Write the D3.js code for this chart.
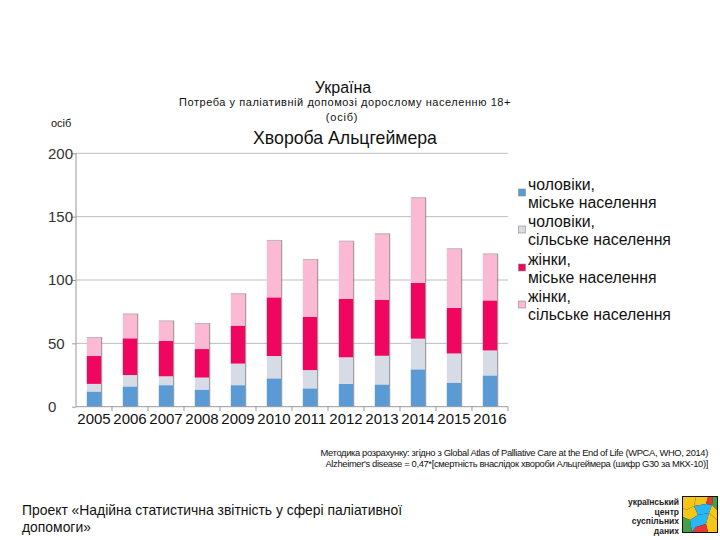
<!DOCTYPE html>
<html><head><meta charset="utf-8">
<script src="https://cdn.jsdelivr.net/npm/d3@7"></script>
<style>body{margin:0;background:#fff}svg{display:block}text{font-family:"Liberation Sans",Arial,sans-serif}</style>
</head><body><svg id="c" width="720" height="540"></svg>
<script>
const years = ["2005","2006","2007","2008","2009","2010","2011","2012","2013","2014","2015","2016"];
const menUrban   = [12, 16, 17, 13.5, 17, 22.4, 14.5, 18, 17.6, 29.5, 19, 24.7];
const menRural   = [6, 9, 7, 9.5, 17, 17.6, 14.4, 21, 22.6, 24.2, 23, 19.7];
const womenUrban = [22, 29, 28, 22.5, 30, 46.3, 41.9, 46, 44.2, 44, 36, 39.5];
const womenRural = [15, 19.5, 16, 20.5, 25.5, 45.3, 45.8, 46, 52.4, 67.6, 47, 37];
const seriesNames = [["чоловіки,","міське населення"],["чоловіки,","сільське населення"],["жінки,","міське населення"],["жінки,","сільське населення"]];
const yTicks = [0,50,100,150,200];
const colors = ["#5b9bd5","#d6dbe6","#f0065f","#fbb9d4"];

const svg = d3.select("#c");
const xb = d3.scaleBand().domain(years).range([76,508]);
const y = d3.scaleLinear().domain([0,200]).range([406.7,153.3]);

// gridlines
svg.append("g").selectAll("line").data(yTicks.filter(d=>d>0)).join("line")
  .attr("x1",76).attr("x2",508).attr("y1",d=>y(d)).attr("y2",d=>y(d))
  .attr("stroke","#bdbdbd").attr("stroke-width",1);

const series = [menUrban, menRural, womenUrban, womenRural];
const data = years.map((yr,i)=>({year:yr, a:series[0][i], b:series[1][i], c:series[2][i], d:series[3][i]}));
const stack = d3.stack().keys(["a","b","c","d"])(data);

const g = svg.append("g");
stack.forEach((layer,k)=>{
  g.append("g").selectAll("rect").data(layer).join("rect")
    .attr("x",d=>xb(d.data.year)+xb.bandwidth()/2-7.2)
    .attr("width",14.4)
    .attr("y",d=>y(d[1]))
    .attr("height",d=>y(d[0])-y(d[1]))
    .attr("fill",colors[k]);
});
// shadow right edge of bars
g.append("g").selectAll("line").data(data).join("line")
  .attr("x1",d=>xb(d.year)+xb.bandwidth()/2+7.7).attr("x2",d=>xb(d.year)+xb.bandwidth()/2+7.7)
  .attr("y1",d=>y(d.a+d.b+d.c+d.d)).attr("y2",y(0))
  .attr("stroke","#8a8a8a").attr("stroke-width",1);
g.append("g").selectAll("line").data(data).join("line")
  .attr("x1",d=>xb(d.year)+xb.bandwidth()/2-7.2).attr("x2",d=>xb(d.year)+xb.bandwidth()/2+7.2)
  .attr("y1",d=>y(d.a+d.b+d.c+d.d)+0.5).attr("y2",d=>y(d.a+d.b+d.c+d.d)+0.5)
  .attr("stroke","#bbbbbb").attr("stroke-width",1);

// y axis
const yAxis = d3.axisLeft(y).tickValues(yTicks).tickSize(4).tickPadding(0);
const ya = svg.append("g").attr("transform","translate(76,0)").call(yAxis);
ya.select(".domain").attr("stroke","#999").attr("d","M0,153.3V406.7");
ya.selectAll(".tick line").attr("stroke","#999");
ya.selectAll("text").attr("font-size",15).attr("fill","#333").attr("text-anchor","start").attr("x",-28);

// x axis
const xAxis = d3.axisBottom(xb).tickSize(0).tickPadding(7);
const xa = svg.append("g").attr("transform","translate(0,406.7)").call(xAxis);
xa.select(".domain").attr("stroke","#999").attr("d","M76,0H508");
xa.selectAll("text").attr("font-size",15).attr("fill","#111");
svg.append("g").selectAll("line").data(d3.range(1,13)).join("line")
  .attr("x1",i=>76+i*36).attr("x2",i=>76+i*36).attr("y1",406.7).attr("y2",411)
  .attr("stroke","#999");

// titles
svg.append("text").attr("x",343).attr("y",93).attr("text-anchor","middle").attr("font-size",16).attr("fill","#111").text("Україна");
svg.append("text").attr("x",345).attr("y",106).attr("text-anchor","middle").attr("font-size",11).attr("letter-spacing",0.55).attr("fill","#111").text("Потреба у паліативній допомозі дорослому населенню 18+");
svg.append("text").attr("x",342).attr("y",121).attr("text-anchor","middle").attr("font-size",11).attr("letter-spacing",0.8).attr("fill","#111").text("(осіб)");
svg.append("text").attr("x",345).attr("y",144).attr("text-anchor","middle").attr("font-size",17.7).attr("fill","#111").text("Хвороба Альцгеймера");
svg.append("text").attr("x",51).attr("y",127).attr("font-size",11).attr("fill","#111").text("осіб");

// legend
const leg = svg.append("g");
const legY = [185, 222, 260, 297];
seriesNames.forEach((nm,k)=>{
  leg.append("rect").attr("x",518.5).attr("y",legY[k]+4).attr("width",7).attr("height",7)
    .attr("fill",colors[k]).attr("stroke","#8a8a8a").attr("stroke-width",0.6);
  nm.forEach((t,j)=>{
    leg.append("text").attr("x",528).attr("y",legY[k]+5+j*18).attr("font-size",15.8).attr("fill","#111").text(t);
  });
});

// footnote
svg.append("text").attr("x",708).attr("y",456).attr("text-anchor","end").attr("font-size",9.4).attr("letter-spacing",-0.35).attr("fill","#111")
  .text("Методика розрахунку: згідно з Global Atlas of Palliative Care at the End of Life (WPCA, WHO, 2014)");
svg.append("text").attr("x",708).attr("y",467).attr("text-anchor","end").attr("font-size",9.4).attr("letter-spacing",-0.35).attr("fill","#111")
  .text("Alzheimer's disease = 0,47*[смертність внаслідок хвороби Альцгеймера (шифр G30 за МКХ-10)]");

// bottom project text
svg.append("text").attr("x",22).attr("y",515).attr("font-size",13.9).attr("fill","#111").text("Проект «Надійна статистична звітність у сфері паліативної");
svg.append("text").attr("x",22).attr("y",532).attr("font-size",13.9).attr("fill","#111").text("допомоги»");

// logo
const logoText = ["український","центр","суспільних","даних"];
logoText.forEach((t,i)=>{
  svg.append("text").attr("x",679).attr("y",505+i*9.5).attr("text-anchor","end").attr("font-size",8.5).attr("font-weight","bold").attr("fill","#222").text(t);
});
const lg = svg.append("g").attr("transform","translate(682,496)");
lg.append("rect").attr("width",36).attr("height",37).attr("fill","#111");
const pieces = [
  ["M1,1 L14,1 L12,10 L4,14 L1,12 Z","#f5c518"],
  ["M14,1 L26,1 L24,8 L12,10 Z","#f5c518"],
  ["M26,1 L31,1 L30,9 L24,8 Z","#e53935"],
  ["M31,1 L35,1 L35,14 L30,9 Z","#43a047"],
  ["M4,14 L12,10 L16,19 L8,24 L1,21 L1,12 Z","#f5c518"],
  ["M12,10 L24,8 L30,9 L27,17 L16,19 Z","#29b6f6"],
  ["M30,9 L35,14 L35,24 L27,17 Z","#f5c518"],
  ["M1,21 L8,24 L10,36 L1,36 Z","#43a047"],
  ["M8,24 L16,19 L27,17 L24,28 L14,31 L10,36 Z","#29b6f6"],
  ["M27,17 L35,24 L35,36 L26,36 L24,28 Z","#f5c518"],
  ["M10,36 L14,31 L24,28 L26,36 Z","#e53935"]
];
lg.selectAll("path").data(pieces).join("path").attr("d",d=>d[0]).attr("fill",d=>d[1]);
</script></body></html>
